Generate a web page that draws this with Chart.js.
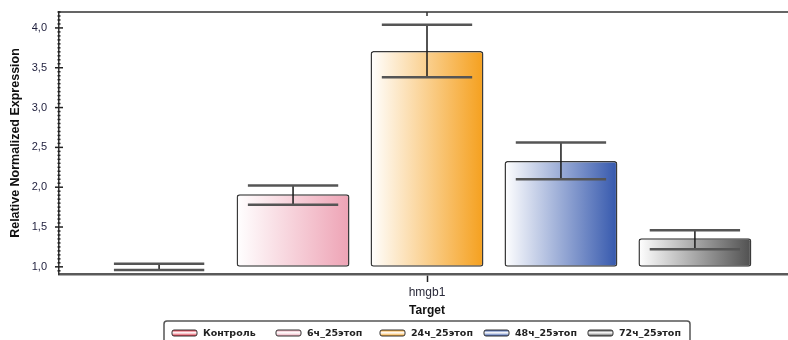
<!DOCTYPE html>
<html lang="ru">
<head>
<meta charset="utf-8">
<title>hmgb1 - Relative Normalized Expression</title>
<script src="https://cdn.jsdelivr.net/npm/chart.js@4.4.1/dist/chart.umd.min.js"></script>
<style>
  html, body { margin: 0; padding: 0; background: #fff; overflow: hidden; }
  #wrap { width: 800px; height: 340px; }
</style>
</head>
<body>
<div id="wrap"><canvas id="myChart"></canvas></div>
<script>
"use strict";

// data
const targets = ['hmgb1'];
const groups = ['Контроль', '6ч_25этоп', '24ч_25этоп', '48ч_25этоп', '72ч_25этоп'];
const expression = [1.00, 1.91, 3.71, 2.33, 1.36];
const errUpper = [1.04, 2.02, 4.04, 2.56, 1.46];
const errLower = [0.96, 1.78, 3.38, 2.10, 1.22];
const barColors = ['#e0283c', '#eea3b5', '#f5a01e', '#3558ad', '#505050'];

Chart.defaults.font.family = "'Liberation Sans', Arial, sans-serif";

// white -> colour, left to right, for every bar
const gradientBars = {
  id: 'gradientBars',
  beforeDatasetsDraw(chart) {
    const ctx = chart.ctx;
    chart.data.datasets.forEach((ds, i) => {
      chart.getDatasetMeta(i).data.forEach(bar => {
        const g = ctx.createLinearGradient(bar.x - bar.width / 2, 0, bar.x + bar.width / 2, 0);
        g.addColorStop(0, '#ffffff');
        g.addColorStop(1, barColors[i]);
        bar.options = Object.assign({}, bar.options, { backgroundColor: g });
      });
    });
  }
};

// error bars: thin stem + two grey caps
const errorBars = {
  id: 'errorBars',
  afterDatasetsDraw(chart) {
    const ctx = chart.ctx;
    const ys = chart.scales.y;
    ctx.save();
    chart.data.datasets.forEach((ds, i) => {
      chart.getDatasetMeta(i).data.forEach(bar => {
        const hi = ys.getPixelForValue(errUpper[i]);
        const lo = ys.getPixelForValue(errLower[i]);
        const half = bar.width * 0.4;
        ctx.strokeStyle = '#1a1a1a';
        ctx.lineWidth = 1.5;
        ctx.beginPath();
        ctx.moveTo(bar.x, hi);
        ctx.lineTo(bar.x, lo);
        ctx.stroke();
        ctx.strokeStyle = '#555';
        ctx.lineWidth = 2.5;
        ctx.beginPath();
        ctx.moveTo(bar.x - half, hi);
        ctx.lineTo(bar.x + half, hi);
        ctx.moveTo(bar.x - half, lo);
        ctx.lineTo(bar.x + half, lo);
        ctx.stroke();
      });
    });
    ctx.restore();
  }
};

// top border, small top tick and the y axis major/minor ticks
const frame = {
  id: 'frame',
  afterDraw(chart) {
    const ctx = chart.ctx;
    const a = chart.chartArea;
    const ys = chart.scales.y;
    const xs = chart.scales.x;
    ctx.save();
    ctx.strokeStyle = '#333';
    ctx.lineWidth = 1.5;
    ctx.beginPath();
    ctx.moveTo(a.left, a.top);
    ctx.lineTo(a.right, a.top);
    const cx = xs.getPixelForValue(0);
    ctx.moveTo(cx, a.top);
    ctx.lineTo(cx, a.top + 4);
    ctx.stroke();

    ctx.strokeStyle = '#222';
    for (let k = Math.ceil(ys.min / 0.05 - 1e-9); k * 0.05 <= ys.max + 1e-9; k++) {
      const y = ys.getPixelForValue(k * 0.05);
      const len = (k % 10 === 0) ? 4 : 1.5;
      ctx.beginPath();
      ctx.moveTo(a.left - len, y);
      ctx.lineTo(a.left + len, y);
      ctx.stroke();
    }
    ctx.restore();
  }
};

// legend in a rounded box at the bottom
const legendBox = {
  id: 'legendBox',
  afterDraw(chart) {
    const ctx = chart.ctx;
    const a = chart.chartArea;
    const cx = (a.left + a.right) / 2;
    const left = cx - 263;
    const top = chart.height - 19;
    ctx.save();
    ctx.strokeStyle = '#555';
    ctx.lineWidth = 1.5;
    ctx.beginPath();
    ctx.roundRect(left, top, 526, 30, 3);
    ctx.stroke();

    ctx.font = "bold 9.5px 'DejaVu Sans'";
    ctx.textBaseline = 'middle';
    groups.forEach((name, i) => {
      const x = left + 8 + i * 104;
      const y = top + 9;
      const g = ctx.createLinearGradient(0, y, 0, y + 6);
      g.addColorStop(0, barColors[i]);
      g.addColorStop(0.45, '#ffffff');
      g.addColorStop(1, barColors[i]);
      ctx.fillStyle = g;
      ctx.beginPath();
      ctx.roundRect(x, y, 25, 6, 2);
      ctx.fill();
      ctx.strokeStyle = '#333';
      ctx.lineWidth = 1;
      ctx.stroke();
      ctx.fillStyle = '#222';
      ctx.fillText(name, x + 31, y + 3.5);
    });
    ctx.restore();
  }
};

const datasets = groups.map((name, i) => ({
  label: name,
  data: [expression[i]],
  base: 1,
  backgroundColor: barColors[i],
  borderColor: '#3a3a3a',
  borderWidth: 1.5,
  borderRadius: 3,
  borderSkipped: false,
  categoryPercentage: 0.91,
  barPercentage: 0.843
}));

new Chart(document.getElementById('myChart'), {
  type: 'bar',
  data: { labels: targets, datasets: datasets },
  options: {
    responsive: true,
    maintainAspectRatio: false,
    animation: false,
    layout: { padding: { top: 12, right: 5, bottom: 22, left: 0 } },
    plugins: {
      legend: { display: false },
      tooltip: { enabled: false }
    },
    scales: {
      x: {
        offset: true,
        afterFit: s => { s.height = 44; },
        grid: { display: true, offset: false, drawOnChartArea: false, drawTicks: true, tickLength: 8, tickColor: '#222', tickWidth: 1.5 },
        border: { display: true, color: '#5a5a5a', width: 2.5 },
        ticks: { padding: 3, color: '#2a2a3a', font: { size: 12 } },
        title: { display: true, text: 'Target', color: '#111', font: { size: 12, weight: 'bold' }, padding: { top: 0, bottom: 0 } }
      },
      y: {
        min: 0.91,
        max: 4.2,
        afterFit: s => { s.width = 59; },
        // the tick marks are drawn by the frame plugin, this only keeps labels off the axis
        grid: { display: false, drawTicks: true, tickLength: 12, tickColor: 'rgba(0,0,0,0)' },
        border: { display: true, color: '#333', width: 1.5 },
        ticks: {
          stepSize: 0.5,
          includeBounds: false,
          autoSkip: false,
          padding: 0,
          color: '#1e1e3c',
          font: { size: 11 },
          callback: v => v.toFixed(1).replace('.', ',')
        },
        title: { display: true, text: 'Relative Normalized Expression', color: '#111', font: { size: 12.5, weight: 'bold' }, padding: { top: 8, bottom: 0 } }
      }
    }
  },
  plugins: [gradientBars, errorBars, frame, legendBox]
});
</script>
</body>
</html>
